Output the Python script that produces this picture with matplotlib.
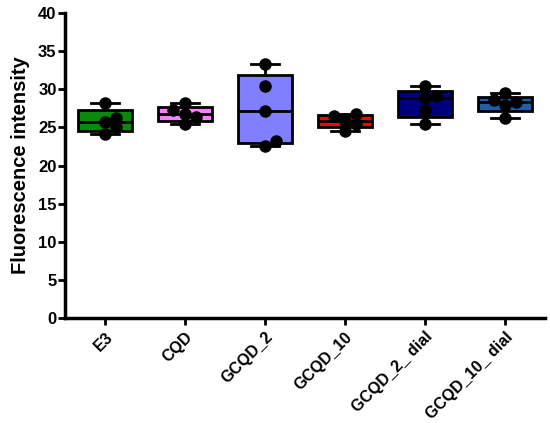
import numpy as np
from matplotlib import pyplot as plt

plt.rcParams['font.family'] = ['Liberation Sans', 'DejaVu Sans']
plt.rcParams['font.weight'] = 'bold'

groups = ['E3', 'CQD', 'GCQD_2', 'GCQD_10', 'GCQD_2_ dial', 'GCQD_10_ dial']
e3 = [24.2, 25.0, 25.7, 26.3, 28.2]
cqd = [25.4, 26.4, 26.8, 27.3, 28.2]
gcqd2 = [22.6, 23.2, 27.1, 30.4, 33.3]
gcqd10 = [24.6, 25.4, 25.9, 26.5, 26.8]
gcqd2_dial = [25.5, 27.3, 28.9, 29.1, 30.5]
gcqd10_dial = [26.3, 27.9, 28.3, 28.6, 29.5]
data = [e3, cqd, gcqd2, gcqd10, gcqd2_dial, gcqd10_dial]
colors = ['#0a8a0a', '#ff80ff', '#7f7fff', '#ff0000', '#00007f', '#1f5fa5']

fig = plt.figure(figsize=(5.5, 4.23), dpi=100)
ax = fig.add_axes([0.118, 0.248, 0.873, 0.721])

# Prism-style quartiles, whiskers from min to max
stats = []
for vals in data:
    v = np.array(vals)
    q1, med, q3 = np.percentile(v, [25, 50, 75], method='weibull')
    stats.append({'med': med, 'q1': q1, 'q3': q3,
                  'whislo': v.min(), 'whishi': v.max(), 'fliers': []})

x = np.arange(len(groups))
bp = ax.bxp(stats, positions=x, widths=0.68, patch_artist=True,
            showfliers=False,
            boxprops=dict(linewidth=2, edgecolor='black'),
            medianprops=dict(color='black', linewidth=2),
            whiskerprops=dict(color='black', linewidth=2),
            capprops=dict(color='black', linewidth=2),
            capwidths=0.35)
for patch, c in zip(bp['boxes'], colors):
    patch.set_facecolor(c)

# spread the dots so they do not sit on top of each other
def spread(vals, dx=0.13, dy=1.2):
    placed = []
    offs = []
    for v in vals:
        for k in [0, 1, -1, 2, -2, 3, -3]:
            o = k * dx * 0.55
            ok = all(((o - po) / dx) ** 2 + ((v - pv) / dy) ** 2 >= 1
                     for po, pv in placed)
            if ok:
                break
        placed.append((o, v))
        offs.append(o)
    return np.array(offs)

for i, vals in enumerate(data):
    ax.plot(x[i] + spread(vals), vals, 'o', color='black', markersize=8,
            zorder=5)

ax.set_xlim(-0.5, 5.5)
ax.set_ylim(0, 40)
ax.set_yticks(np.arange(0, 41, 5))
ax.set_xticks(x)
ax.set_xticklabels(groups, rotation=45, ha='right', rotation_mode='anchor',
                   fontsize=11.5, fontweight='bold')
ax.set_ylabel('Fluorescence intensity', fontsize=14.5, fontweight='bold',
              labelpad=6)
for lab in ax.get_yticklabels():
    lab.set_fontsize(12)
    lab.set_fontweight('bold')

ax.spines['top'].set_visible(False)
ax.spines['right'].set_visible(False)
ax.spines['left'].set_linewidth(2.5)
ax.spines['bottom'].set_linewidth(2.5)
ax.tick_params(width=2, length=5, pad=1)
ax.tick_params(axis='x', pad=3)

plt.savefig('out.png')
